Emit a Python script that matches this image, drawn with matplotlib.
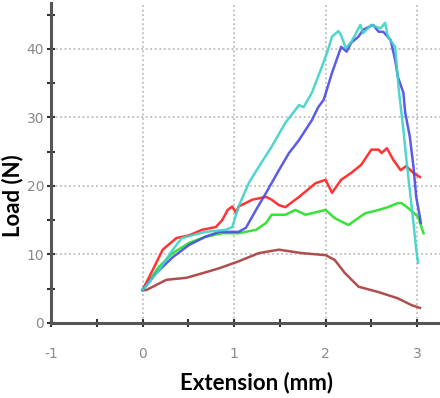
# load vs extension curves, five samples

import matplotlib
matplotlib.use("Agg")
import matplotlib.pyplot as plt
from matplotlib.ticker import MultipleLocator

# Data (extension in mm, load in N)
cyan_x = [0, 0.18, 0.33, 0.43, 0.54, 0.69, 0.91, 0.98, 1.05, 1.16, 1.27, 1.40, 1.56, 1.71, 1.76, 1.85,
          1.96, 2.03, 2.07, 2.14, 2.17, 2.22, 2.28, 2.38, 2.41, 2.50, 2.60, 2.65, 2.68, 2.76, 2.80,
          2.85, 2.88, 2.92, 2.96, 2.99, 3.01]
cyan_y = [4.8, 7.7, 10.7, 12.4, 12.8, 13.3, 13.6, 14.0, 17.0, 20.4, 22.8, 25.5, 29.2, 31.8, 31.5, 33.6,
          37.4, 40.0, 41.8, 42.6, 42.0, 40.1, 41.0, 43.5, 42.3, 43.5, 43.0, 43.8, 41.8, 40.3, 34.0,
          28.2, 24.2, 19.4, 14.6, 10.7, 8.8]

blue_x = [0, 0.15, 0.33, 0.51, 0.69, 0.84, 1.05, 1.13, 1.24, 1.35, 1.49, 1.60, 1.71, 1.85, 1.92,
          1.98, 2.07, 2.17, 2.23, 2.28, 2.36, 2.41, 2.52, 2.58, 2.63, 2.71, 2.76, 2.79, 2.85, 2.87,
          2.92, 2.96, 2.99, 3.03, 3.04]
blue_y = [4.8, 7.3, 9.6, 11.4, 12.6, 13.3, 13.3, 13.9, 16.5, 19.0, 22.3, 24.8, 26.7, 29.6, 31.5,
          32.6, 36.5, 40.3, 39.6, 40.9, 41.8, 42.8, 43.5, 42.5, 42.5, 41.3, 38.4, 35.9, 33.6, 30.7,
          27.2, 22.8, 18.4, 15.5, 14.6]

red_x = [0, 0.11, 0.22, 0.37, 0.51, 0.65, 0.80, 0.87, 0.93, 0.98, 1.02, 1.05, 1.20, 1.35, 1.41,
         1.49, 1.56, 1.71, 1.89, 2.00, 2.07, 2.17, 2.28, 2.39, 2.50, 2.58, 2.61, 2.67, 2.74, 2.82,
         2.88, 2.96, 3.03]
red_y = [4.8, 7.7, 10.7, 12.4, 12.8, 13.6, 14.0, 15.0, 16.5, 17.0, 16.1, 17.0, 18.0, 18.4, 18.0,
         17.2, 16.9, 18.4, 20.4, 20.9, 19.0, 20.9, 21.9, 23.1, 25.3, 25.3, 24.8, 25.5, 23.8, 22.3,
         22.9, 21.9, 21.3]

green_x = [0, 0.18, 0.33, 0.51, 0.69, 0.87, 1.05, 1.24, 1.35, 1.41, 1.49, 1.56, 1.67, 1.78, 2.00,
           2.10, 2.25, 2.43, 2.58, 2.68, 2.79, 2.83, 2.90, 3.01, 3.07]
green_y = [4.8, 8.2, 10.2, 11.7, 12.6, 13.1, 13.1, 13.6, 14.6, 15.8, 15.8, 15.8, 16.5, 15.8, 16.5,
           15.3, 14.3, 16.0, 16.5, 16.9, 17.5, 17.5, 16.8, 15.5, 13.1]

brown_x = [0, 0.04, 0.26, 0.48, 0.69, 0.84, 1.05, 1.27, 1.49, 1.74, 2.00, 2.10, 2.21, 2.36, 2.58,
           2.79, 2.94, 3.03]
brown_y = [4.8, 4.8, 6.3, 6.6, 7.4, 8.0, 9.0, 10.2, 10.7, 10.2, 9.9, 9.2, 7.3, 5.3, 4.5,
           3.6, 2.6, 2.2]

series = [
    (brown_x, brown_y, '#a83a3a'),
    (green_x, green_y, '#22e022'),
    (red_x, red_y, '#ff1f1f'),
    (blue_x, blue_y, '#4a4ae6'),
    (cyan_x, cyan_y, '#3ed2c8'),
]

fig = plt.figure(figsize=(4.4, 3.98), dpi=100)
ax = fig.add_axes([51 / 440, 75 / 398, 389 / 440, 320 / 398])
ax.set_axisbelow(True)

for xs, ys, col in series:
    ax.plot(xs, ys, color=col, lw=1.8, alpha=0.9, solid_joinstyle='round', zorder=3)

ax.set_xlim(-1, 3.25)
ax.set_ylim(0, 46.7)

ax.spines['top'].set_visible(False)
ax.spines['right'].set_visible(False)
for s in ['left', 'bottom']:
    ax.spines[s].set_color('#555555')
    ax.spines[s].set_linewidth(2.2)

ax.xaxis.set_major_locator(MultipleLocator(1))
ax.xaxis.set_minor_locator(MultipleLocator(0.5))
ax.yaxis.set_major_locator(MultipleLocator(10))
ax.yaxis.set_minor_locator(MultipleLocator(5))
ax.tick_params(which='both', direction='inout', length=6, width=1.5, color='#333333')
ax.tick_params(axis='x', labelsize=10, labelcolor='#8a8a8a', pad=14)
ax.tick_params(axis='y', labelsize=10, labelcolor='#8a8a8a', pad=2)
ax.set_xticks([-1, 0, 1, 2, 3])
ax.set_xticklabels(['-1', '0', '1', '2', '3'])

# dotted grid, only on the major ticks (the one at -1 / 0 sits under the spines)
ax.grid(True, which='major', color='#bdbdbd', lw=1.3, ls=(0, (1, 1.5)))

fig.text(256 / 440, 1 - 383 / 398, 'Extension (mm)', fontsize=16, fontweight='bold',
         family='Lato', ha='center', va='center')
fig.text(13 / 440, 1 - 196 / 398, 'Load (N)', fontsize=16, fontweight='bold',
         family='Lato', ha='center', va='center', rotation=90)

fig.savefig('out.png', dpi=100)
